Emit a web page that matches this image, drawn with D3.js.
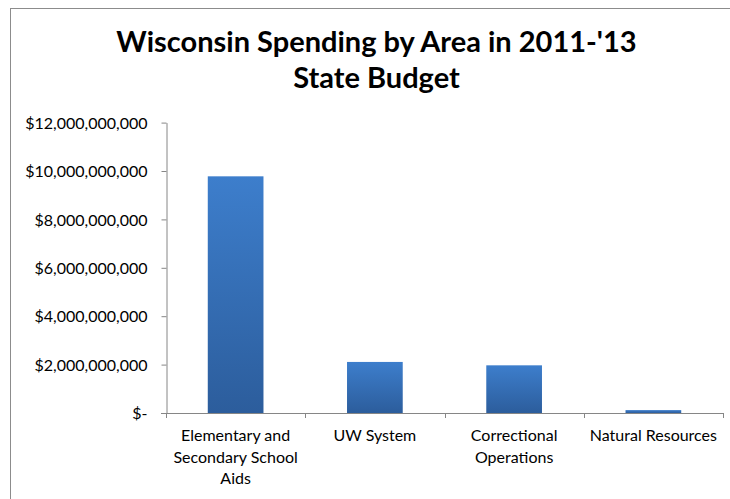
<!DOCTYPE html>
<html>
<head>
<meta charset="utf-8">
<script src="https://cdn.jsdelivr.net/npm/d3@7/dist/d3.min.js"></script>
<style>
  html, body { margin: 0; padding: 0; background: #fff; }
  svg { display: block; }
  text { font-family: Lato, "Open Sans", sans-serif; fill: #000; }
</style>
</head>
<body>
<svg id="chart" width="730" height="499"></svg>
<script>
// Spending areas and their 2011-'13 budget amounts (dollars)
const categories = [
  ["Elementary and", "Secondary School", "Aids"],
  ["UW System"],
  ["Correctional", "Operations"],
  ["Natural Resources"]
];
const values = [9.78e9, 2.11e9, 1.97e9, 0.12e9];
const yTicks = [0, 2e9, 4e9, 6e9, 8e9, 10e9, 12e9];
const titleLines = ["Wisconsin Spending by Area in 2011-'13", "State Budget"];

const svg = d3.select("#chart");
const W = 730, H = 499;
const plot = { left: 166, right: 723, top: 122.6, bottom: 413 };

// Outer chart border
svg.append("rect")
  .attr("x", 10.5).attr("y", 8.5)
  .attr("width", W + 20).attr("height", H + 20)
  .attr("fill", "#fff").attr("stroke", "#8c8c8c").attr("stroke-width", 1);

// Bar gradient (lighter at top, darker at base)
const defs = svg.append("defs");
const grad = defs.append("linearGradient")
  .attr("id", "barGrad").attr("x1", 0).attr("y1", 0).attr("x2", 0).attr("y2", 1);
grad.append("stop").attr("offset", "0%").attr("stop-color", "#3d7ecc");
grad.append("stop").attr("offset", "100%").attr("stop-color", "#2c5d9c");

const idx = d3.range(categories.length);
const x = d3.scaleBand().domain(idx).range([plot.left, plot.right]).paddingInner(0).paddingOuter(0);
const y = d3.scaleLinear().domain([0, 12e9]).range([plot.bottom, plot.top]);

const fmt = v => v === 0 ? "$-" : "$" + d3.format(",")(v);

// Y axis
const yAxis = svg.append("g")
  .attr("transform", `translate(${plot.left + 0.5},0)`)
  .call(d3.axisLeft(y).tickValues(yTicks).tickFormat(fmt).tickSize(5).tickSizeOuter(0).tickPadding(14));
yAxis.select(".domain").attr("stroke", "#868686");
yAxis.selectAll(".tick line").attr("stroke", "#868686");
yAxis.selectAll(".tick text")
  .style("font-size", "16px").attr("fill", "#111").attr("dy", "0.35em");

// Bars
const barW = x.bandwidth() / 2.5;
svg.append("g").selectAll("rect")
  .data(values)
  .join("rect")
  .attr("x", (d, i) => x(i) + (x.bandwidth() - barW) / 2)
  .attr("width", barW)
  .attr("y", d => y(d))
  .attr("height", d => y(0) - y(d))
  .attr("fill", "url(#barGrad)");

// X axis line and boundary ticks
const xg = svg.append("g");
xg.append("line")
  .attr("x1", plot.left - 5).attr("x2", plot.right + 0.5)
  .attr("y1", plot.bottom + 0.5).attr("y2", plot.bottom + 0.5)
  .attr("stroke", "#868686");
const bounds = idx.map(i => x(i)).concat([plot.right]);
xg.selectAll("line.tick")
  .data(bounds)
  .join("line")
  .attr("class", "tick")
  .attr("x1", d => Math.round(d) + 0.5).attr("x2", d => Math.round(d) + 0.5)
  .attr("y1", plot.bottom).attr("y2", plot.bottom + 5)
  .attr("stroke", "#868686");

// Category labels
const labels = svg.append("g").selectAll("text")
  .data(categories)
  .join("text")
  .attr("text-anchor", "middle")
  .attr("fill", "#111")
  .style("font-size", "16px");
labels.each(function(lines, i) {
  d3.select(this).selectAll("tspan")
    .data(lines)
    .join("tspan")
    .attr("x", x(i) + x.bandwidth() / 2)
    .attr("y", (d, j) => 441 + j * 21.5)
    .text(d => d);
});

// Title
svg.append("g").selectAll("text")
  .data(titleLines)
  .join("text")
  .attr("x", 376.5)
  .attr("y", (d, i) => 52 + i * 36)
  .attr("text-anchor", "middle")
  .style("font-size", "29px")
  .style("font-weight", "bold")
  .text(d => d);
</script>
</body>
</html>
